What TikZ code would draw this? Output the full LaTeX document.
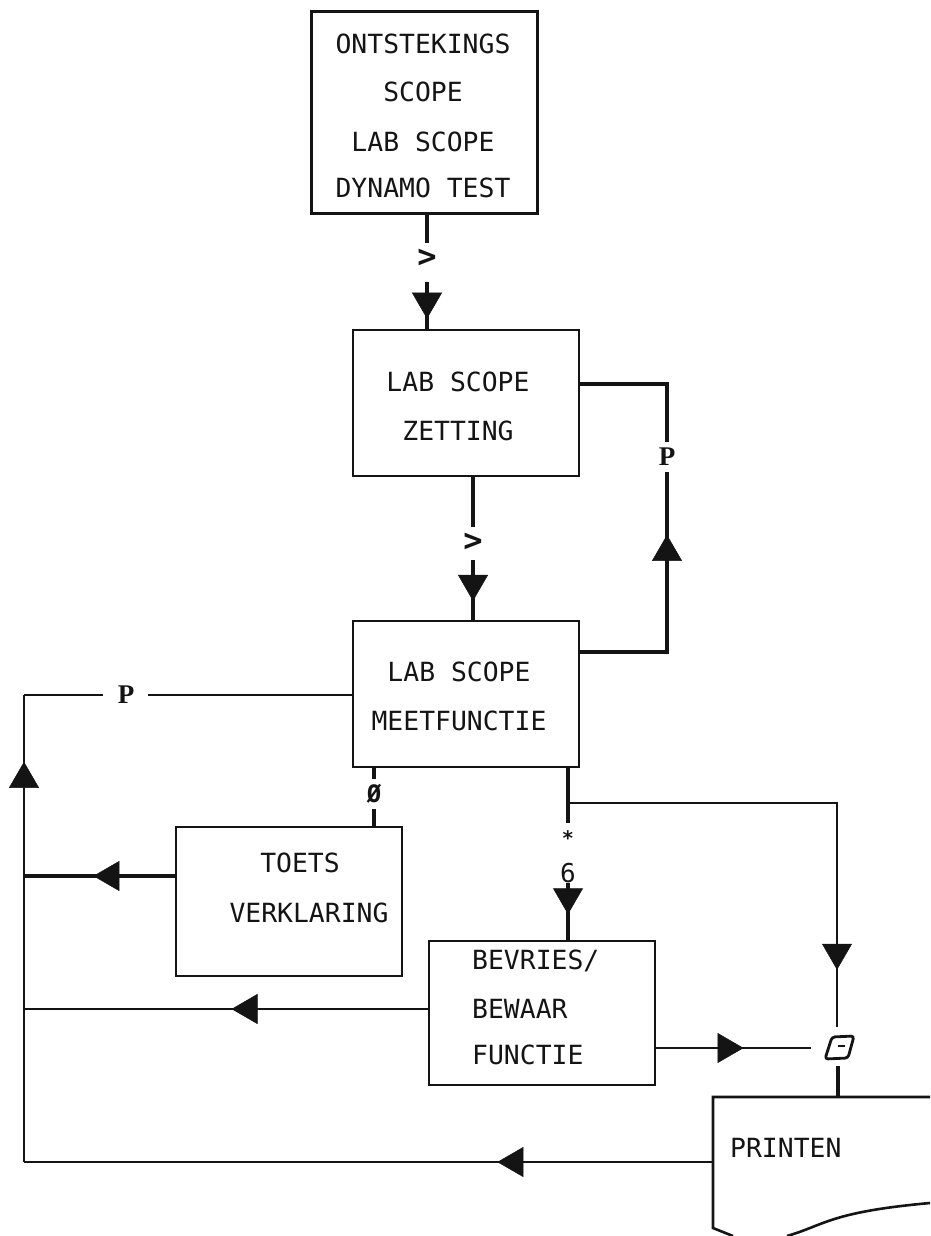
\documentclass[tikz,border=0pt]{standalone}
\usepackage{fontspec}
\setmonofont{DejaVu Sans Mono}
\newfontfamily\toetsfont{Liberation Serif}
\usepackage{xcolor}
\usetikzlibrary{arrows.meta,decorations.markings}
\definecolor{inkt}{RGB}{20,20,20}
\tikzset{
  blok/.style={draw=inkt, line width=2.6pt, inner sep=0pt, minimum width=226pt},
  tekst/.style={font=\fontsize{26.4}{49}\ttfamily, text=inkt, inner sep=0pt, align=center},
  toets/.style={font=\fontsize{24}{24}\ttfamily\bfseries, text=inkt, inner sep=0pt, minimum size=30pt},
  groot/.style={font=\fontsize{32}{32}\ttfamily\bfseries},
  letter/.style={font=\fontsize{27}{27}\toetsfont\bfseries},
  lijn/.style={draw=inkt, line width=3.2pt},
  pijl/.style={lijn, postaction={decorate}, decoration={markings,
    mark=at position #1 with {\arrow[inkt, line width=0.5pt]{Triangle[length=26pt, width=30pt]}}}}
}
\begin{document}
\begin{tikzpicture}[x=1pt, y=-1pt]
  \useasboundingbox (0,0) rectangle (930,1236);
  % boxes
  \node[blok, minimum height=201pt, line width=3pt] (ontsteking) at (424,112.5) {};
  \node[blok, minimum height=146pt] (zetting) at (466,403) {};
  \node[blok, minimum height=146pt] (meet) at (466,694) {};
  \node[blok, minimum height=149pt] (verklaring) at (289,901.5) {};
  \node[blok, minimum height=144pt] (bewaar) at (542,1013) {};
  % box texts
  \node[tekst] (ontstekingtekst) at (423,116) {ONTSTEKINGS\\[-1pt]SCOPE\\[1pt]LAB SCOPE\\[-3pt]DYNAMO TEST};
  \node[tekst] (zettingtekst) at (458,406.5) {LAB SCOPE\\ZETTING};
  \node[tekst] (meettekst) at (459,696.5) {LAB SCOPE\\MEETFUNCTIE};
  \node[tekst] (verklaringtekst) at (309,888) {TOETS\hspace*{18pt}\\[1pt]VERKLARING};
  \node[tekst, align=left, anchor=west] (bewaartekst) at (472,1007.5) {BEVRIES/\\BEWAAR\\[-3pt]FUNCTIE};
  % printer sheet, open to the right
  \draw[lijn, line width=2.6pt] (930,1097) -- (713,1097) -- (713,1228) -- (733,1236)
    (787,1236) .. controls (825,1225) and (830,1212) .. (930,1203);
  \coordinate (printboven) at (838,1097);
  \coordinate (printlinks) at (713,1162);
  \node[tekst, anchor=west] (printtekst) at (730,1148) {PRINTEN};
  % key labels
  \node[toets, groot] (groter) at (427,258) {>};
  \node[toets, groot] (groterb) at (473,542) {>};
  \node[toets, letter] (pr) at (667,457) {P};
  \node[toets, letter] (pl) at (126,695) {P};
  \node[toets] (nul) at (374,794) {Ø};
  \node[toets, font=\fontsize{20}{20}\ttfamily\bfseries] (ster) at (568,838) {*};
  \node[toets, minimum size=20pt, font=\fontsize{26}{26}\ttfamily] (zes) at (568,873) {6};
  % printer key
  \node[inner sep=0pt, minimum width=32pt, minimum height=36pt] (toetsprint) at (838,1048) {};
  \draw[inkt, line width=2.8pt, rounded corners=3pt] (832,1037) -- (854,1036) -- (848,1058) -- (825,1059) -- cycle;
  \draw[inkt, line width=2pt] (838,1046) -- (845,1046);
  % corners
  \coordinate (zhoek) at (667,384);
  \coordinate (mhoek) at (667,652);
  \coordinate (lhoek) at (24,695);
  \coordinate (londer) at (24,1162);
  \coordinate (rail1) at (24,876);
  \coordinate (rail2) at (24,1009);
  \coordinate (tak) at (568,803);
  \coordinate (rhoek) at (837,803);
  \coordinate (ingang) at (837,1027);
  \coordinate (bewaaroog) at (811,1048);
  % top of the flow
  \draw[lijn, line width=3.8pt] (ontsteking.south -| groter) -- (groter);
  \draw[pijl=0.82, shorten <=9pt] (groter) -- (zetting.north -| groter);
  \draw[lijn, line width=3.8pt] (zetting.south -| groterb) -- (groterb);
  \draw[pijl=0.70, shorten <=3pt] (groterb) -- (meet.north -| groterb);
  % loop back to the setting
  \draw[lijn] (zetting.east |- zhoek) -- (zhoek) -- (pr);
  \draw[pijl=0.765] (meet.east |- mhoek) -- (mhoek) -- (pr);
  % back to the left rail
  \draw[lijn, line width=2.4pt, shorten >=7pt] (meet.west |- pl) -- (pl);
  \draw[lijn, line width=2.4pt, shorten <=8pt] (pl) -- (lhoek);
  \draw[pijl=0.857, line width=2.6pt] (londer) -- (lhoek);
  \draw[pijl=0.54] (verklaring.west |- rail1) -- (rail1);
  \draw[pijl=0.486, line width=2.6pt] (bewaar.west |- rail2) -- (rail2);
  \draw[pijl=0.313, line width=2.6pt] (printlinks) -- (londer);
  % keys below the measuring box
  \draw[lijn] (meet.south -| nul) -- (nul);
  \draw[lijn] (nul) -- (verklaring.north -| nul);
  \draw[lijn, line width=3.8pt] (meet.south -| ster) -- (ster);
  \draw[pijl=0.55, line width=3.8pt] (zes) -- (bewaar.north -| zes);
  % printer branch
  \draw[pijl=0.884, line width=2.8pt] (tak) -- (rhoek) -- (ingang);
  \draw[pijl=0.564, line width=2.6pt] (bewaar.east |- bewaaroog) -- (bewaaroog);
  \draw[lijn] (toetsprint) -- (printboven -| toetsprint);
\end{tikzpicture}
\end{document}
